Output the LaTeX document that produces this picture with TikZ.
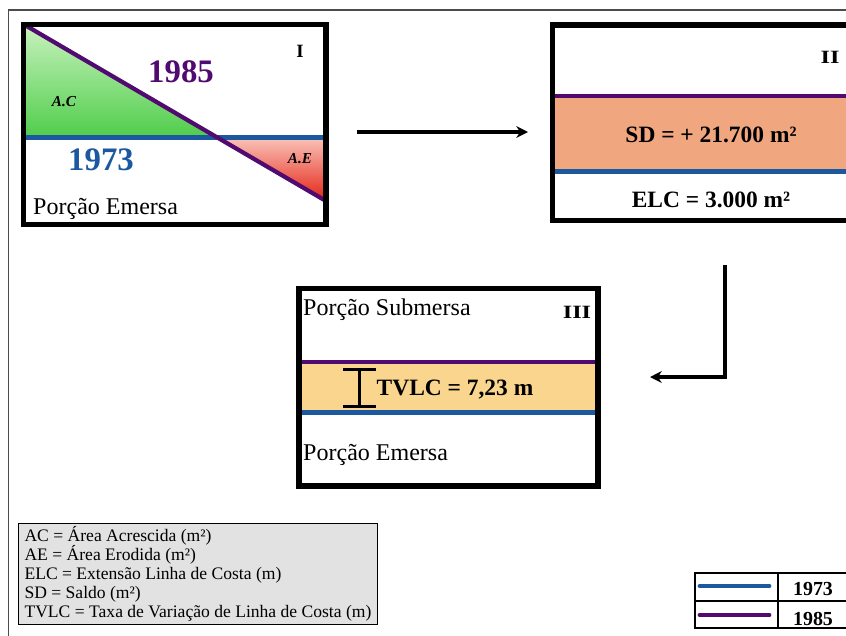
\documentclass[tikz,border=0pt]{standalone}
\usepackage{fontspec}
\setmainfont{Liberation Serif}
\usepackage{xcolor}
\usepackage{tikz}
\usetikzlibrary{arrows.meta}
\definecolor{linepurple}{RGB}{80,10,112}
\definecolor{lineblue}{RGB}{28,88,160}
\definecolor{greenlight}{RGB}{200,242,190}
\definecolor{greendark}{RGB}{80,205,75}
\definecolor{redlight}{RGB}{250,195,185}
\definecolor{reddark}{RGB}{228,35,20}
\definecolor{sdfill}{RGB}{240,166,126}
\definecolor{tvlcfill}{RGB}{250,213,142}
\definecolor{legendgray}{RGB}{226,226,226}
\tikzstyle{panel}  = [line width=4.5pt]
\tikzstyle{line85} = [draw=linepurple, line width=3.6pt]
\tikzstyle{line73} = [draw=lineblue, line width=3.6pt]
\tikzstyle{arrow}  = [line width=2.6pt, -{Stealth[length=10pt,width=10pt]}]
\tikzstyle{year}   = [font=\fontsize{28}{30}\selectfont\bfseries, anchor=base, inner sep=0pt]
\tikzstyle{value}  = [font=\fontsize{20}{22}\selectfont\bfseries, anchor=base, inner sep=0pt]
\tikzstyle{place}  = [font=\fontsize{20.5}{22}\selectfont, anchor=base west, inner sep=0pt]
\tikzstyle{roman}  = [font=\fontsize{16}{17}\selectfont\bfseries, anchor=base, inner sep=0pt]
\tikzstyle{area}   = [font=\fontsize{13}{14}\selectfont\bfseries\itshape, anchor=base, inner sep=0pt]
\tikzstyle{keyrow} = [font=\fontsize{17}{18}\selectfont\bfseries, anchor=base, inner sep=0pt]

\begin{document}
\begin{tikzpicture}[x=0.03cm, y=-0.03cm]
    \useasboundingbox (0,0) rectangle (846,635);
    \clip (0,0) rectangle (846,635);
    \draw [gray!60!black, line width=1.2pt] (8.5,10) rectangle (900,700);

    % painel I
    \shade [top color=greenlight, bottom color=greendark] (24,24.5) -- (217.5,137.5) -- (24,137.5) -- cycle;
    \shade [top color=redlight, bottom color=reddark] (217.5,137.5) -- (326,137.5) -- (326,201) -- cycle;
    \draw [line73] (24,137.5) -- (326,137.5);
    \draw [line85] (24,24.5) -- (326,201);
    \draw [panel] (23.7,24.5) rectangle (326,224.5);
    \node (lbl85)    [year, text=linepurple] at (181,82)  {1985};
    \node (lbl73)    [year, text=lineblue]   at (101,170) {1973};
    \node (lblAC)    [area]                  at (64,106)  {A.C};
    \node (lblAE)    [area]                  at (300,163) {A.E};
    \node (numI)     [roman]                 at (300,57)  {I};
    \node (emersaI)  [place]                 at (33,214)  {Porção Emersa};

    % painel II
    \fill [sdfill] (552,96) rectangle (900,171.5);
    \draw [line85] (552,96) -- (900,96);
    \draw [line73] (552,171.5) -- (900,171.5);
    \draw [panel] (552.5,25) rectangle (900,220.5);
    \node (numII)    [roman, xscale=1.3] at (830,63)  {II};
    \node (sdval)    [value] at (711,142) {SD = + 21.700 m²};
    \node (elcval)   [value] at (711,207) {ELC = 3.000 m²};

    % painel III
    \fill [tvlcfill] (299,362) rectangle (598,412.5);
    \draw [line85] (299,362) -- (598,362);
    \draw [line73] (299,412.5) -- (598,412.5);
    \draw [panel] (299,288.5) rectangle (598,486);
    \draw [line width=2.4pt] (343,369.5) -- (376,369.5) (359.5,369.5) -- (359.5,406.5) (343,406.5) -- (376,406.5);
    \node (submersa)  [place] at (303,315) {Porção Submersa};
    \node (numIII)    [roman, xscale=1.3] at (577,318) {III};
    \node (tvlc)      [value] at (455,395) {TVLC = 7,23 m};
    \node (emersaIII) [place] at (303,460) {Porção Emersa};

    % setas
    \coordinate (arrIstart) at (357,132);
    \coordinate (arrIend)   at (528,132);
    \coordinate (arrIIstart) at (725,265);
    \coordinate (arrIIend)   at (650,377);
    \draw [arrow] (arrIstart) -- (arrIend);
    \draw [arrow] (arrIIstart) |- (arrIIend);

    % legenda
    \node (legend) [draw, fill=legendgray, line width=1.2pt, align=left, anchor=north west,
                    inner xsep=5pt, inner ysep=2.6pt, font=\fontsize{15}{16.2}\selectfont] at (18,523)
        {AC = Área Acrescida (m²)\\AE = Área Erodida (m²)\\ELC = Extensão Linha de Costa (m)\\SD = Saldo (m²)\\TVLC = Taxa de Variação de Linha de Costa (m)};

    % anos
    \draw [line width=0.9pt] (695,573) rectangle (900,628) (778,573) -- (778,628) (695,601) -- (900,601);
    \draw [line73, line width=4.2pt, line cap=round] (700,586) -- (769,586);
    \draw [line85, line width=4.2pt, line cap=round] (700,615) -- (769,615);
    \node (key73) [keyrow] at (813,595) {1973};
    \node (key85) [keyrow] at (813,625) {1985};
\end{tikzpicture}
\end{document}
